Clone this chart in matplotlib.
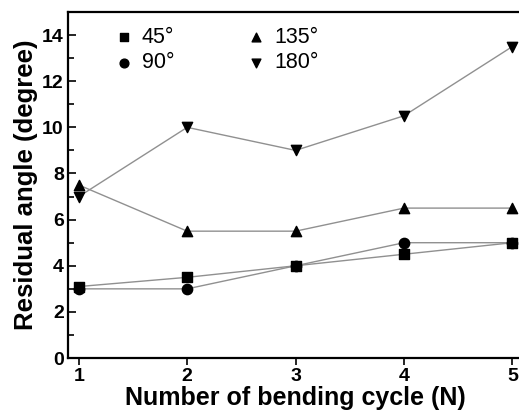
import matplotlib
matplotlib.use("Agg")
import matplotlib.pyplot as plt
from matplotlib.ticker import MultipleLocator

plt.rcParams["font.family"] = ["Liberation Sans", "DejaVu Sans"]

cycles = [1, 2, 3, 4, 5]
angle_45 = [3.1, 3.5, 4.0, 4.5, 5.0]
angle_90 = [3.0, 3.0, 4.0, 5.0, 5.0]
angle_135 = [7.5, 5.5, 5.5, 6.5, 6.5]
angle_180 = [7.0, 10.0, 9.0, 10.5, 13.5]

series = [
    ("45°", angle_45, "s"),
    ("90°", angle_90, "o"),
    ("135°", angle_135, "^"),
    ("180°", angle_180, "v"),
]

fig = plt.figure(figsize=(5.19, 4.13), dpi=100)
ax = fig.add_axes([0.131, 0.133, 0.877, 0.838])

handles = []
for label, values, marker in series:
    ax.plot(cycles, values, color="#909090", lw=1.0, zorder=1)
    h = ax.scatter(cycles, values, marker=marker, s=55, color="black", zorder=2, label=label)
    handles.append(h)

ax.set_xlim(0.9, 5.1)
ax.set_ylim(0, 15)
ax.set_xticks(cycles)
ax.yaxis.set_major_locator(MultipleLocator(2))
ax.yaxis.set_minor_locator(MultipleLocator(1))

for side in ax.spines.values():
    side.set_linewidth(1.6)

ax.tick_params(axis="y", which="both", direction="in", width=1.2, labelsize=14, pad=3)
ax.tick_params(axis="y", which="major", length=6)
ax.tick_params(axis="y", which="minor", length=4)
ax.tick_params(axis="x", direction="out", length=5, width=1.2, labelsize=14, pad=2)
for lbl in ax.get_xticklabels() + ax.get_yticklabels():
    lbl.set_fontweight("bold")

ax.set_xlabel("Number of bending cycle (N)", fontsize=18, fontweight="bold", labelpad=1)
ax.set_ylabel("Residual angle (degree)", fontsize=18.5, fontweight="bold", labelpad=3)

ax.legend(handles=handles, ncol=2, loc="upper left", bbox_to_anchor=(0.07, 1.0),
          frameon=False, fontsize=15.5, handlelength=0.8, handletextpad=0.45,
          columnspacing=3.4, labelspacing=0.2, borderaxespad=0.3, scatterpoints=1,
          markerscale=0.85)

fig.savefig("out.png", dpi=100)
